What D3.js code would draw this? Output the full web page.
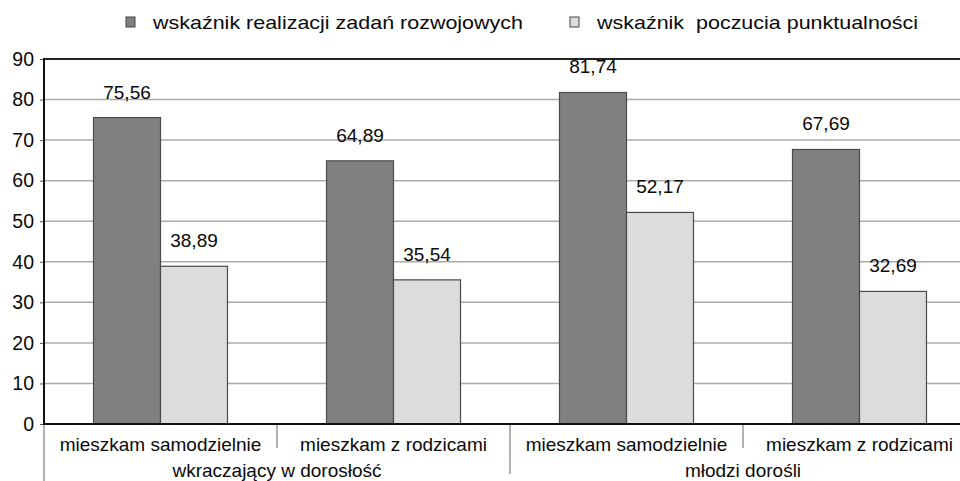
<!DOCTYPE html>
<html><head><meta charset="utf-8">
<script src="https://cdn.jsdelivr.net/npm/d3@7"></script>
<style>
html,body{margin:0;padding:0;background:#fff;}
svg{display:block;font-family:"Liberation Sans",Arial,sans-serif;}
</style></head>
<body>
<svg id="chart" width="960" height="481"></svg>
<script>
const categories = ["mieszkam samodzielnie","mieszkam z rodzicami","mieszkam samodzielnie","mieszkam z rodzicami"];
const groups = ["wkraczający w dorosłość","młodzi dorośli"];
const seriesNames = ["wskaźnik realizacji zadań rozwojowych","wskaźnik  poczucia punktualności"];
const seriesA = [75.56, 64.89, 81.74, 67.69];
const seriesB = [38.89, 35.54, 52.17, 32.69];
const yTicks = [0,10,20,30,40,50,60,70,80,90];
const colors = ["#808080","#dcdcdc"];

(function(){
const svg = d3.select("#chart");
const mL = 44, mR = 976, mT = 59, mB = 424;
const FS = 19, TXT = "#0a0a0a";

const x0 = d3.scaleBand().domain(d3.range(categories.length)).range([mL,mR]).paddingInner(0).paddingOuter(0);
const x1 = d3.scaleBand().domain([0,1]).range([0,x0.bandwidth()]).paddingInner(0).paddingOuter(0.739);
const y = d3.scaleLinear().domain([0,90]).range([mB,mT]);

// gridlines
svg.append("g").selectAll("line").data(yTicks.filter(t=>t>0 && t<90)).join("line")
  .attr("x1",mL).attr("x2",960).attr("y1",d=>y(d)).attr("y2",d=>y(d))
  .attr("stroke","#ababab").attr("stroke-width",1.5);
// top border
svg.append("line").attr("x1",mL).attr("x2",960).attr("y1",y(90)).attr("y2",y(90))
  .attr("stroke","#222").attr("stroke-width",2);

// y axis
const yAxis = d3.axisLeft(y).tickValues(yTicks).tickSize(4).tickPadding(6).tickFormat(d3.format("d"));
const ya = svg.append("g").attr("transform",`translate(${mL},0)`).call(yAxis);
ya.select(".domain").remove();
ya.selectAll(".tick line").attr("stroke","#555");
ya.selectAll("text").attr("font-size",FS+0.5).attr("fill",TXT).attr("font-family","Liberation Sans, Arial, sans-serif");

const series = [seriesA, seriesB];
const bars = svg.append("g");
series.forEach((vals,si)=>{
  bars.selectAll(null).data(vals).join("rect")
    .attr("x",(d,i)=>x0(i)+x1(si))
    .attr("width",x1.bandwidth())
    .attr("y",d=>y(d))
    .attr("height",d=>y(0)-y(d))
    .attr("fill",colors[si]).attr("stroke","#4a4a4a").attr("stroke-width",1.2);
});
const fmt = v => d3.format(".2f")(v).replace(".",",");
series.forEach((vals,si)=>{
  svg.append("g").selectAll("text").data(vals).join("text")
    .attr("x",(d,i)=>x0(i)+x1(si)+x1.bandwidth()/2)
    .attr("y",d=>y(d)-19)
    .attr("text-anchor","middle").attr("font-size",FS).attr("fill",TXT)
    .text(d=>fmt(d));
});

// axis lines
svg.append("line").attr("x1",mL-1).attr("x2",960).attr("y1",mB).attr("y2",mB)
  .attr("stroke","#111").attr("stroke-width",2);
svg.append("line").attr("x1",mL).attr("x2",mL).attr("y1",mT-1).attr("y2",mB)
  .attr("stroke","#111").attr("stroke-width",2);
svg.append("line").attr("x1",mL).attr("x2",mL).attr("y1",mB+1).attr("y2",481)
  .attr("stroke","#999").attr("stroke-width",1.5);

// category separators
const sep = svg.append("g");
d3.range(1,categories.length+1).forEach(i=>{
  const xx = i < categories.length ? x0(i) : mR;
  const isGroup = (i % 2 === 0);
  sep.append("line").attr("x1",xx).attr("x2",xx).attr("y1",mB+1).attr("y2",isGroup?474:448)
    .attr("stroke","#999").attr("stroke-width",1.5);
});
// category labels
svg.append("g").selectAll("text").data(categories).join("text")
  .attr("x",(d,i)=>x0(i)+x0.bandwidth()/2).attr("y",451)
  .attr("text-anchor","middle").attr("font-size",FS).attr("fill",TXT).text(d=>d);
// group labels
svg.append("g").selectAll("text").data(groups).join("text")
  .attr("x",(d,i)=>x0(i*2)+x0.bandwidth())
  .attr("y",477).attr("text-anchor","middle").attr("font-size",FS).attr("fill",TXT).text(d=>d);

// legend
const legX = [126, 570], legW = [370, 321];
seriesNames.forEach((n,i)=>{
  svg.append("rect").attr("x",legX[i]).attr("y",17).attr("width",9).attr("height",10)
    .attr("fill",colors[i]).attr("stroke","#444").attr("stroke-width",1);
  svg.append("text").attr("x",legX[i]+27).attr("y",29).attr("font-size",FS).attr("fill",TXT)
    .attr("xml:space","preserve").style("white-space","pre")
    .attr("textLength",legW[i]).attr("lengthAdjust","spacingAndGlyphs").text(n);
});
})();
</script>
</body></html>
